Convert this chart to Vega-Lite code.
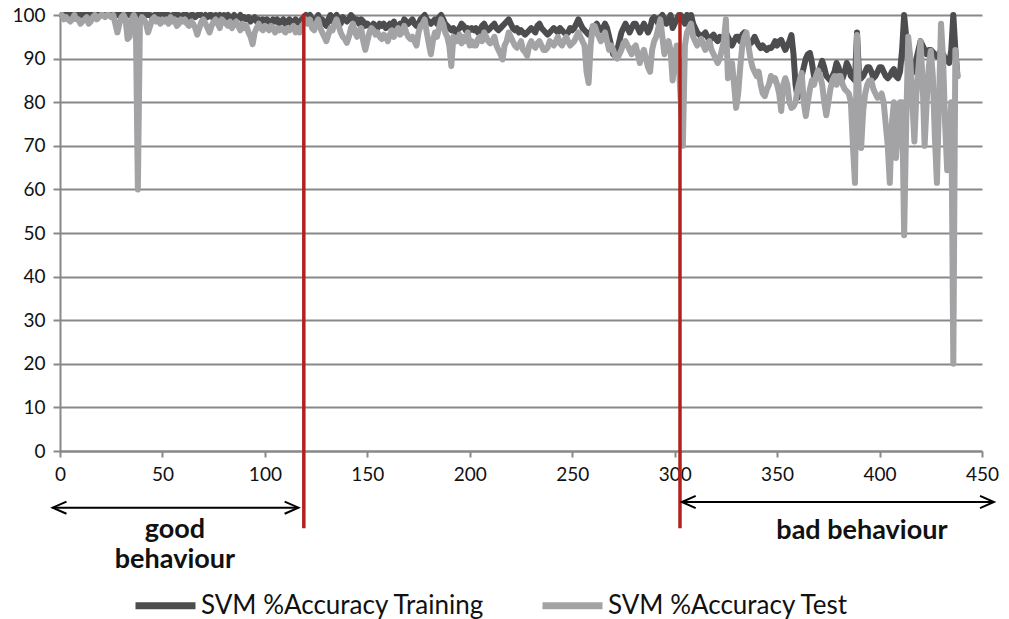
{
  "$schema": "https://vega.github.io/schema/vega-lite/v6.json",
  "width": 922,
  "height": 436,
  "autosize": {"type": "none"},
  "padding": {"left": 60, "top": 15, "right": 27, "bottom": 168},
  "background": "white",
  "config": {
    "view": {"stroke": null},
    "font": "Lato",
    "axis": {"labelFont": "Lato", "labelFontSize": 19, "labelColor": "#111", "title": null}
  },
  "datasets": {
    "acc": [
      {"x":1,"a":100,"b":100},{"x":2,"a":100,"b":99},{"x":3,"a":100,"b":99.5},{"x":4,"a":100,"b":99},{"x":5,"a":100,"b":98.5},{"x":6,"a":100,"b":99},{"x":7,"a":100,"b":100},{"x":8,"a":100,"b":99},{"x":9,"a":100,"b":99},{"x":10,"a":100,"b":98},
      {"x":11,"a":100,"b":98.5},{"x":12,"a":100,"b":99},{"x":13,"a":100,"b":99.5},{"x":14,"a":100,"b":98},{"x":15,"a":100,"b":98.5},{"x":16,"a":100,"b":99.5},{"x":17,"a":100,"b":100},{"x":18,"a":100,"b":99},{"x":19,"a":100,"b":99.5},{"x":20,"a":100,"b":100},
      {"x":21,"a":100,"b":100},{"x":22,"a":100,"b":99.5},{"x":23,"a":100,"b":100},{"x":24,"a":100,"b":100},{"x":25,"a":100,"b":99.5},{"x":26,"a":100,"b":100},{"x":27,"a":100,"b":98},{"x":28,"a":100,"b":96},{"x":29,"a":100,"b":98},{"x":30,"a":100,"b":99.5},
      {"x":31,"a":100,"b":100},{"x":32,"a":100,"b":99},{"x":33,"a":100,"b":94.5},{"x":34,"a":100,"b":95},{"x":35,"a":100,"b":99},{"x":36,"a":100,"b":100},{"x":37,"a":100,"b":99},{"x":38,"a":100,"b":60},{"x":39,"a":100,"b":98},{"x":40,"a":100,"b":99.5},
      {"x":41,"a":100,"b":99},{"x":42,"a":100,"b":98},{"x":43,"a":100,"b":96},{"x":44,"a":100,"b":97.5},{"x":45,"a":99.5,"b":99},{"x":46,"a":100,"b":99.5},{"x":47,"a":100,"b":98.5},{"x":48,"a":100,"b":99},{"x":49,"a":100,"b":98},{"x":50,"a":100,"b":99},
      {"x":51,"a":100,"b":98.5},{"x":52,"a":100,"b":99},{"x":53,"a":100,"b":98},{"x":54,"a":99.5,"b":99.5},{"x":55,"a":100,"b":98.5},{"x":56,"a":100,"b":99},{"x":57,"a":100,"b":97.5},{"x":58,"a":100,"b":98},{"x":59,"a":99.5,"b":99},{"x":60,"a":100,"b":98.5},
      {"x":61,"a":100,"b":99},{"x":62,"a":100,"b":98},{"x":63,"a":99.5,"b":97.5},{"x":64,"a":100,"b":98.5},{"x":65,"a":100,"b":98},{"x":66,"a":99.5,"b":97},{"x":67,"a":100,"b":95.5},{"x":68,"a":100,"b":97},{"x":69,"a":100,"b":98.5},{"x":70,"a":99.5,"b":99},
      {"x":71,"a":100,"b":98},{"x":72,"a":99.5,"b":97},{"x":73,"a":100,"b":96},{"x":74,"a":100,"b":97.5},{"x":75,"a":99,"b":98.5},{"x":76,"a":100,"b":99},{"x":77,"a":99.5,"b":98},{"x":78,"a":100,"b":97},{"x":79,"a":99,"b":99},{"x":80,"a":100,"b":98.5},
      {"x":81,"a":99.5,"b":98},{"x":82,"a":100,"b":97.5},{"x":83,"a":99,"b":98.5},{"x":84,"a":99.5,"b":97},{"x":85,"a":100,"b":98},{"x":86,"a":99,"b":98.5},{"x":87,"a":99.5,"b":97.5},{"x":88,"a":100,"b":96.5},{"x":89,"a":99,"b":98},{"x":90,"a":99.5,"b":97},
      {"x":91,"a":99,"b":97.5},{"x":92,"a":99.5,"b":96},{"x":93,"a":98.5,"b":95},{"x":94,"a":99,"b":93.3},{"x":95,"a":99.5,"b":96},{"x":96,"a":98.5,"b":97},{"x":97,"a":99,"b":98},{"x":98,"a":98,"b":97},{"x":99,"a":99,"b":96.5},{"x":100,"a":98.5,"b":97.5},
      {"x":101,"a":99,"b":97},{"x":102,"a":98.5,"b":96.5},{"x":103,"a":98,"b":97.5},{"x":104,"a":99,"b":97},{"x":105,"a":98.5,"b":96},{"x":106,"a":99,"b":97},{"x":107,"a":98,"b":96.5},{"x":108,"a":98.5,"b":97},{"x":109,"a":99,"b":96.5},{"x":110,"a":98,"b":96},
      {"x":111,"a":98.5,"b":97},{"x":112,"a":99,"b":96.5},{"x":113,"a":98,"b":97},{"x":114,"a":98.5,"b":97.5},{"x":115,"a":99,"b":96},{"x":116,"a":98,"b":97},{"x":117,"a":98.5,"b":96},{"x":118,"a":99,"b":97.5},{"x":119,"a":99.5,"b":98},{"x":120,"a":100,"b":99},
      {"x":121,"a":99.5,"b":98},{"x":122,"a":100,"b":99},{"x":123,"a":99,"b":97},{"x":124,"a":98.5,"b":96.5},{"x":125,"a":99,"b":98},{"x":126,"a":100,"b":99},{"x":127,"a":98.5,"b":97},{"x":128,"a":99,"b":96},{"x":129,"a":98,"b":95},{"x":130,"a":97.5,"b":94},
      {"x":131,"a":99,"b":95.5},{"x":132,"a":100,"b":97},{"x":133,"a":98.5,"b":96.5},{"x":134,"a":99.5,"b":98},{"x":135,"a":100,"b":99},{"x":136,"a":99,"b":97.5},{"x":137,"a":98,"b":96},{"x":138,"a":99.5,"b":95},{"x":139,"a":99,"b":94.5},{"x":140,"a":98.5,"b":93.6},
      {"x":141,"a":99,"b":95},{"x":142,"a":100,"b":97},{"x":143,"a":99.5,"b":98},{"x":144,"a":98.5,"b":96},{"x":145,"a":99,"b":95},{"x":146,"a":98,"b":96.5},{"x":147,"a":99,"b":97},{"x":148,"a":98.5,"b":94},{"x":149,"a":97.5,"b":92},{"x":150,"a":98,"b":94},
      {"x":151,"a":97.5,"b":96},{"x":152,"a":97,"b":97},{"x":153,"a":98,"b":96.5},{"x":154,"a":97.5,"b":95.5},{"x":155,"a":97,"b":96},{"x":156,"a":98,"b":95},{"x":157,"a":97.5,"b":94.5},{"x":158,"a":98,"b":95.5},{"x":159,"a":97,"b":95},{"x":160,"a":97.5,"b":94},
      {"x":161,"a":98,"b":95.5},{"x":162,"a":97.5,"b":96.5},{"x":163,"a":98.5,"b":95},{"x":164,"a":97,"b":96},{"x":165,"a":97.5,"b":97},{"x":166,"a":98,"b":95.5},{"x":167,"a":97.5,"b":96},{"x":168,"a":99,"b":97.5},{"x":169,"a":98.5,"b":96},{"x":170,"a":98,"b":95},
      {"x":171,"a":98.5,"b":94.5},{"x":172,"a":99,"b":95},{"x":173,"a":98,"b":94},{"x":174,"a":97.5,"b":93},{"x":175,"a":98,"b":96},{"x":176,"a":99,"b":97.5},{"x":177,"a":99.5,"b":98},{"x":178,"a":100,"b":99},{"x":179,"a":99,"b":96},{"x":180,"a":98.5,"b":93.5},
      {"x":181,"a":98,"b":91},{"x":182,"a":98.5,"b":94},{"x":183,"a":99,"b":96},{"x":184,"a":98,"b":95},{"x":185,"a":99.5,"b":97},{"x":186,"a":100,"b":99},{"x":187,"a":99,"b":98},{"x":188,"a":98,"b":96},{"x":189,"a":97.5,"b":95},{"x":190,"a":97,"b":93},
      {"x":191,"a":96.5,"b":88.3},{"x":192,"a":97,"b":95},{"x":193,"a":96,"b":94},{"x":194,"a":96.5,"b":94},{"x":195,"a":97,"b":95.5},{"x":196,"a":98,"b":93.5},{"x":197,"a":97.5,"b":95},{"x":198,"a":96.5,"b":94},{"x":199,"a":97,"b":96},{"x":200,"a":96.5,"b":93},
      {"x":201,"a":97,"b":94},{"x":202,"a":96.5,"b":93},{"x":203,"a":97,"b":93},{"x":204,"a":96,"b":94.5},{"x":205,"a":96.5,"b":95},{"x":206,"a":97.5,"b":94},{"x":207,"a":98,"b":96},{"x":208,"a":97,"b":95},{"x":209,"a":96.5,"b":94},{"x":210,"a":97,"b":93.5},
      {"x":211,"a":97.5,"b":94},{"x":212,"a":98,"b":95},{"x":213,"a":97,"b":93},{"x":214,"a":96.5,"b":92},{"x":215,"a":97,"b":91},{"x":216,"a":97.5,"b":89.8},{"x":217,"a":98,"b":93},{"x":218,"a":98.5,"b":94},{"x":219,"a":99,"b":96},{"x":220,"a":98,"b":95},
      {"x":221,"a":97,"b":94},{"x":222,"a":96.5,"b":93},{"x":223,"a":97,"b":92.5},{"x":224,"a":96,"b":93},{"x":225,"a":96.5,"b":94},{"x":226,"a":96,"b":92},{"x":227,"a":95.5,"b":91.5},{"x":228,"a":96,"b":90.6},{"x":229,"a":96.5,"b":93},{"x":230,"a":97,"b":94},
      {"x":231,"a":96.5,"b":93},{"x":232,"a":96,"b":92.5},{"x":233,"a":97.5,"b":93.5},{"x":234,"a":98,"b":94},{"x":235,"a":97,"b":93},{"x":236,"a":96.5,"b":92},{"x":237,"a":96,"b":92},{"x":238,"a":95.5,"b":92.5},{"x":239,"a":96,"b":94},{"x":240,"a":96.5,"b":93.5},
      {"x":241,"a":97,"b":93},{"x":242,"a":96.5,"b":94},{"x":243,"a":96,"b":95},{"x":244,"a":97,"b":93.5},{"x":245,"a":96.5,"b":93},{"x":246,"a":96,"b":94},{"x":247,"a":95.5,"b":95},{"x":248,"a":96,"b":94},{"x":249,"a":97,"b":93},{"x":250,"a":96.5,"b":93.5},
      {"x":251,"a":97,"b":94},{"x":252,"a":98,"b":95},{"x":253,"a":99,"b":96},{"x":254,"a":98,"b":95},{"x":255,"a":97,"b":94},{"x":256,"a":96.5,"b":93},{"x":257,"a":96,"b":87},{"x":258,"a":95.5,"b":84.4},{"x":259,"a":96,"b":93},{"x":260,"a":97,"b":97.5},
      {"x":261,"a":97.5,"b":97.5},{"x":262,"a":98,"b":96},{"x":263,"a":97,"b":95},{"x":264,"a":96.5,"b":94},{"x":265,"a":97,"b":95},{"x":266,"a":98,"b":96},{"x":267,"a":97,"b":94},{"x":268,"a":95,"b":92},{"x":269,"a":93,"b":93},{"x":270,"a":91,"b":92},
      {"x":271,"a":90.6,"b":90.5},{"x":272,"a":92,"b":90},{"x":273,"a":94,"b":91},{"x":274,"a":96,"b":92},{"x":275,"a":97,"b":93.5},{"x":276,"a":98,"b":94},{"x":277,"a":97,"b":93},{"x":278,"a":96,"b":92},{"x":279,"a":97,"b":91},{"x":280,"a":98,"b":92.5},
      {"x":281,"a":98,"b":93},{"x":282,"a":97,"b":91},{"x":283,"a":96,"b":89},{"x":284,"a":97,"b":91},{"x":285,"a":98,"b":92},{"x":286,"a":97,"b":90},{"x":287,"a":96,"b":88},{"x":288,"a":97,"b":87},{"x":289,"a":99,"b":92},{"x":290,"a":99.5,"b":94},
      {"x":291,"a":99,"b":95},{"x":292,"a":98,"b":97},{"x":293,"a":99.5,"b":99},{"x":294,"a":100,"b":95},{"x":295,"a":99,"b":91},{"x":296,"a":98,"b":93},{"x":297,"a":99,"b":94},{"x":298,"a":100,"b":92},{"x":299,"a":97,"b":85},{"x":300,"a":98,"b":90},
      {"x":301,"a":99,"b":93},{"x":302,"a":100,"b":89},{"x":303,"a":100,"b":80},{"x":304,"a":99,"b":70},{"x":305,"a":98,"b":93},{"x":306,"a":100,"b":96},{"x":307,"a":99,"b":97},{"x":308,"a":100,"b":98},{"x":309,"a":98,"b":95},{"x":310,"a":97,"b":94},
      {"x":311,"a":96,"b":93},{"x":312,"a":95.5,"b":94},{"x":313,"a":95,"b":94.5},{"x":314,"a":95.5,"b":93},{"x":315,"a":96,"b":92},{"x":316,"a":95,"b":93.5},{"x":317,"a":94,"b":94},{"x":318,"a":95,"b":92},{"x":319,"a":95.5,"b":91},{"x":320,"a":94.5,"b":90},
      {"x":321,"a":94,"b":89},{"x":322,"a":95,"b":90},{"x":323,"a":94.5,"b":92},{"x":324,"a":95,"b":94},{"x":325,"a":96,"b":99},{"x":326,"a":95,"b":85.5},{"x":327,"a":94,"b":88},{"x":328,"a":93,"b":89},{"x":329,"a":94,"b":84},{"x":330,"a":95,"b":78.7},
      {"x":331,"a":95,"b":82},{"x":332,"a":94,"b":88},{"x":333,"a":95.5,"b":93},{"x":334,"a":96,"b":95},{"x":335,"a":95,"b":96},{"x":336,"a":94,"b":93},{"x":337,"a":93.5,"b":90},{"x":338,"a":94,"b":88},{"x":339,"a":95,"b":87},{"x":340,"a":94,"b":86},
      {"x":341,"a":93,"b":87},{"x":342,"a":92.4,"b":84},{"x":343,"a":93,"b":82},{"x":344,"a":92.4,"b":81.4},{"x":345,"a":92,"b":83},{"x":346,"a":92.5,"b":84},{"x":347,"a":92.4,"b":86},{"x":348,"a":93,"b":85},{"x":349,"a":94,"b":85.5},{"x":350,"a":93,"b":84},
      {"x":351,"a":94,"b":82},{"x":352,"a":94.3,"b":78},{"x":353,"a":93,"b":84},{"x":354,"a":92,"b":85.5},{"x":355,"a":93,"b":84},{"x":356,"a":94,"b":80},{"x":357,"a":95.4,"b":78.7},{"x":358,"a":91,"b":79},{"x":359,"a":84,"b":80},{"x":360,"a":81,"b":83},
      {"x":361,"a":84,"b":85},{"x":362,"a":86,"b":86.7},{"x":363,"a":88,"b":80},{"x":364,"a":90,"b":76.8},{"x":365,"a":91,"b":80},{"x":366,"a":91.3,"b":83},{"x":367,"a":89,"b":85},{"x":368,"a":86,"b":84},{"x":369,"a":85.5,"b":86},{"x":370,"a":86,"b":87.3},
      {"x":371,"a":88,"b":86},{"x":372,"a":89.5,"b":84},{"x":373,"a":88,"b":80},{"x":374,"a":86,"b":77},{"x":375,"a":85.5,"b":80},{"x":376,"a":85,"b":83},{"x":377,"a":86,"b":85},{"x":378,"a":87,"b":86},{"x":379,"a":89,"b":84},{"x":380,"a":88,"b":86},
      {"x":381,"a":86,"b":86},{"x":382,"a":85.5,"b":84},{"x":383,"a":87,"b":83},{"x":384,"a":89,"b":82.5},{"x":385,"a":88,"b":82},{"x":386,"a":86,"b":80},{"x":387,"a":85.5,"b":70},{"x":388,"a":85,"b":61.5},{"x":389,"a":96,"b":95.4},{"x":390,"a":86,"b":80},
      {"x":391,"a":85.5,"b":69.5},{"x":392,"a":86,"b":78},{"x":393,"a":87,"b":82},{"x":394,"a":88,"b":84},{"x":395,"a":88,"b":85},{"x":396,"a":87,"b":85},{"x":397,"a":85.5,"b":83},{"x":398,"a":86,"b":82},{"x":399,"a":87,"b":81},{"x":400,"a":88,"b":81.2},
      {"x":401,"a":88,"b":82},{"x":402,"a":87,"b":80},{"x":403,"a":86,"b":75},{"x":404,"a":85.5,"b":70},{"x":405,"a":86,"b":61.5},{"x":406,"a":87,"b":75},{"x":407,"a":87.6,"b":80},{"x":408,"a":86,"b":67.2},{"x":409,"a":85.5,"b":74},{"x":410,"a":87,"b":80},
      {"x":411,"a":92,"b":80},{"x":412,"a":100,"b":49.5},{"x":413,"a":95,"b":75},{"x":414,"a":87,"b":95},{"x":415,"a":86.5,"b":90},{"x":416,"a":86.7,"b":80},{"x":417,"a":88,"b":71},{"x":418,"a":90,"b":82},{"x":419,"a":92,"b":88},{"x":420,"a":94,"b":94},
      {"x":421,"a":93,"b":85},{"x":422,"a":92,"b":70},{"x":423,"a":91,"b":80},{"x":424,"a":92,"b":88},{"x":425,"a":92,"b":91.8},{"x":426,"a":91.5,"b":86},{"x":427,"a":91,"b":72},{"x":428,"a":90.5,"b":61.5},{"x":429,"a":91,"b":80},{"x":430,"a":92,"b":98},
      {"x":431,"a":91,"b":90},{"x":432,"a":90,"b":75},{"x":433,"a":89.6,"b":64.4},{"x":434,"a":89,"b":70.8},{"x":435,"a":92,"b":80},{"x":436,"a":100,"b":20},{"x":437,"a":92,"b":92},{"x":438,"a":86,"b":86}
    ],
    "redlines": [{"rx": 119, "y1": 100.3, "y2": -17.7}, {"rx": 302.6, "y1": 100.3, "y2": -17.7}],
    "arrows": [{"x1": -3.6, "x2": 116.4, "ay": -13}, {"x1": 303.5, "x2": 455.8, "ay": -11.7}],
    "heads": [{"hx": -3.6, "hy": -13, "dir": "left"}, {"hx": 116.4, "hy": -13, "dir": "right"}, {"hx": 303.5, "hy": -11.7, "dir": "left"}, {"hx": 455.8, "hy": -11.7, "dir": "right"}],
    "labels": [{"tx": 56.1, "ty": -18.1, "txt": "good"}, {"tx": 56.1, "ty": -25, "txt": "behaviour"}, {"tx": 391.4, "ty": -18.3, "txt": "bad behaviour"}]
  },
  "layer": [
    {
      "data": {"name": "acc"},
      "mark": {"type": "line", "strokeWidth": 6, "strokeJoin": "round", "strokeCap": "round"},
      "encoding": {
        "x": {"field": "x", "type": "quantitative", "scale": {"domain": [0, 450], "nice": false},
          "axis": {"values": [0, 50, 100, 150, 200, 250, 300, 350, 400, 450], "labelFlush": false, "domainColor": "#888", "domainWidth": 2, "tickColor": "#888", "tickWidth": 2, "tickSize": 6, "labelPadding": 8, "grid": false}},
        "y": {"field": "a", "type": "quantitative", "scale": {"domain": [0, 100], "nice": false},
          "axis": {"values": [0, 10, 20, 30, 40, 50, 60, 70, 80, 90, 100], "domainColor": "#888", "domainWidth": 2, "tickColor": "#888", "tickWidth": 2, "tickSize": 7, "labelPadding": 8, "grid": true, "gridColor": "#888", "gridWidth": 2, "labelFlush": false}},
        "color": {"datum": "SVM %Accuracy Training", "type": "nominal",
          "scale": {"domain": ["SVM %Accuracy Training", "SVM %Accuracy Test"], "range": ["#4d4d4f", "#a3a3a5"]},
          "legend": {"orient": "none", "legendX": 72, "legendY": 557, "direction": "horizontal", "title": null, "symbolType": "stroke", "symbolSize": 3600, "symbolStrokeWidth": 7, "labelFont": "Lato", "labelFontSize": 26, "labelLimit": 0, "labelColor": "#111", "labelOffset": 2, "columnPadding": 43}}
      }
    },
    {
      "data": {"name": "acc"},
      "mark": {"type": "line", "strokeWidth": 6, "strokeJoin": "round", "strokeCap": "round"},
      "encoding": {
        "x": {"field": "x", "type": "quantitative"},
        "y": {"field": "b", "type": "quantitative"},
        "color": {"datum": "SVM %Accuracy Test", "type": "nominal"}
      }
    },
    {
      "data": {"name": "redlines"},
      "mark": {"type": "rule", "color": "#b3211f", "strokeWidth": 3.5},
      "encoding": {
        "x": {"field": "rx", "type": "quantitative"},
        "y": {"field": "y1", "type": "quantitative"},
        "y2": {"field": "y2"}
      }
    },
    {
      "data": {"name": "arrows"},
      "mark": {"type": "rule", "color": "#000", "strokeWidth": 2},
      "encoding": {
        "x": {"field": "x1", "type": "quantitative"},
        "x2": {"field": "x2"},
        "y": {"field": "ay", "type": "quantitative"}
      }
    },
    {
      "data": {"name": "heads"},
      "mark": {"type": "point", "filled": false, "stroke": "#000", "strokeWidth": 2, "size": 300, "opacity": 1},
      "encoding": {
        "x": {"field": "hx", "type": "quantitative"},
        "y": {"field": "hy", "type": "quantitative"},
        "shape": {"field": "dir", "type": "nominal", "scale": {"domain": ["left", "right"], "range": ["M1.6,-0.7L0,0L1.6,0.7", "M-1.6,-0.7L0,0L-1.6,0.7"]}, "legend": null}
      }
    },
    {
      "data": {"name": "labels"},
      "mark": {"type": "text", "font": "Lato", "fontWeight": "bold", "fontSize": 27, "color": "#111", "baseline": "middle", "align": "center"},
      "encoding": {
        "x": {"field": "tx", "type": "quantitative"},
        "y": {"field": "ty", "type": "quantitative"},
        "text": {"field": "txt"}
      }
    }
  ]
}
